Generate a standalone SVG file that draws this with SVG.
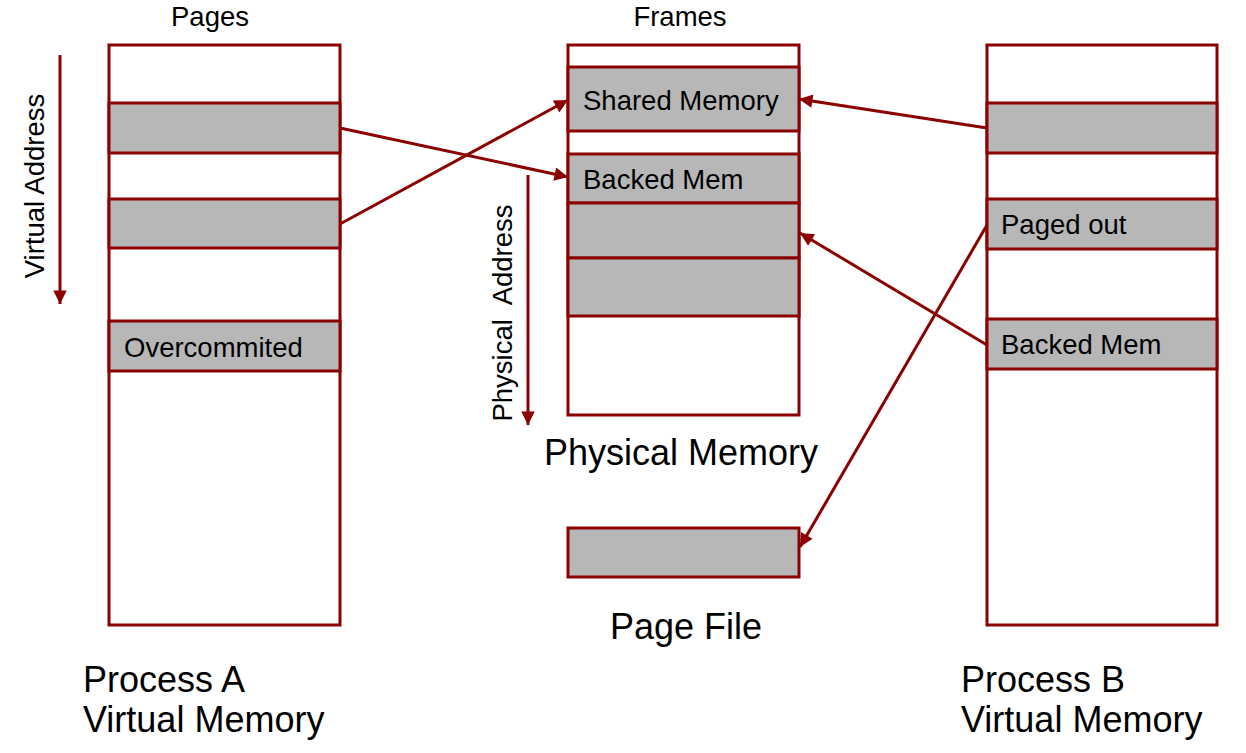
<svg xmlns="http://www.w3.org/2000/svg" width="1246" height="753" viewBox="0 0 1246 753">
<style>
.box{fill:#ffffff;stroke:#8b0000;stroke-width:3}
.cell{fill:#b7b7b7;stroke:#8b0000;stroke-width:3}
.ln{fill:none;stroke:#8b0000;stroke-width:3}
text{font-family:"Liberation Sans",Arial,sans-serif;fill:#000}
.s{font-size:27.5px}
.b{font-size:36px}
</style>
<defs>
<marker id="ah" viewBox="0 0 10 10" refX="10" refY="5" markerWidth="5.5" markerHeight="4.5" orient="auto" markerUnits="strokeWidth">
<path d="M0,0 L10,5 L0,10 z" fill="#8b0000"/>
</marker>
</defs>
<rect width="1246" height="753" fill="#ffffff"/>

<g id="processA">
<rect class="box" x="109" y="45" width="231" height="580"/>
<rect class="cell" x="109" y="103" width="231" height="50"/>
<rect class="cell" x="109" y="199" width="231" height="49"/>
<rect class="cell" x="109" y="321" width="231" height="50"/>
<text class="s" x="124" y="357">Overcommited</text>
<text class="s" x="210" y="26" text-anchor="middle">Pages</text>
<text class="b" x="83" y="692">Process A</text>
<text class="b" x="83" y="732">Virtual Memory</text>
</g>

<g id="physical">
<rect class="box" x="568" y="45" width="231" height="370"/>
<rect class="cell" x="568" y="67" width="231" height="64"/>
<rect class="cell" x="568" y="154" width="231" height="49"/>
<rect class="cell" x="568" y="203" width="231" height="55"/>
<rect class="cell" x="568" y="258" width="231" height="58"/>
<text class="s" x="583" y="110">Shared Memory</text>
<text class="s" x="583" y="189">Backed Mem</text>
<text class="s" x="680" y="26" text-anchor="middle">Frames</text>
<text class="b" x="681" y="465" text-anchor="middle">Physical Memory</text>
</g>

<g id="pagefile">
<rect class="cell" x="568" y="528" width="231" height="49"/>
<text class="b" x="686" y="639" text-anchor="middle">Page File</text>
</g>

<g id="processB">
<rect class="box" x="987" y="45" width="230" height="580"/>
<rect class="cell" x="987" y="103" width="230" height="50"/>
<rect class="cell" x="987" y="199" width="230" height="50"/>
<rect class="cell" x="987" y="319" width="230" height="50"/>
<text class="s" x="1001" y="234">Paged out</text>
<text class="s" x="1001" y="354">Backed Mem</text>
<text class="b" x="961" y="692">Process B</text>
<text class="b" x="961" y="732">Virtual Memory</text>
</g>

<g id="axes">
<line class="ln" x1="60" y1="55" x2="60" y2="304" marker-end="url(#ah)"/>
<text class="s" transform="translate(44,186) rotate(-90)" text-anchor="middle">Virtual Address</text>
<line class="ln" x1="528" y1="175" x2="528" y2="425" marker-end="url(#ah)"/>
<text class="s" transform="translate(512,313) rotate(-90)" text-anchor="middle" xml:space="preserve">Physical  Address</text>
</g>

<g id="connectors">
<line class="ln" x1="340" y1="128" x2="568" y2="177" marker-end="url(#ah)"/>
<line class="ln" x1="340" y1="224" x2="568" y2="100" marker-end="url(#ah)"/>
<line class="ln" x1="987" y1="128" x2="799" y2="99" marker-end="url(#ah)"/>
<line class="ln" x1="987" y1="345" x2="800" y2="233" marker-end="url(#ah)"/>
<line class="ln" x1="987" y1="225" x2="800" y2="547" marker-end="url(#ah)"/>
</g>
</svg>
